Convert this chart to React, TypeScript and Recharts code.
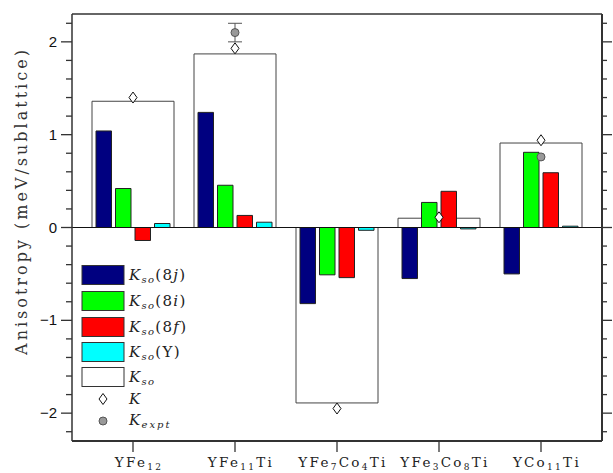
import {
  ComposedChart,
  Bar,
  Line,
  XAxis,
  YAxis,
  ReferenceLine,
  ErrorBar,
} from 'recharts';

const categories = ['YFe12', 'YFe11Ti', 'YFe7Co4Ti', 'YFe3Co8Ti', 'YCo11Ti'];
const kso8j = [1.04, 1.24, -0.82, -0.55, -0.5];
const kso8i = [0.42, 0.455, -0.51, 0.27, 0.81];
const kso8f = [-0.14, 0.13, -0.54, 0.39, 0.59];
const ksoY = [0.043, 0.057, -0.03, -0.015, 0.014];
const ksoTotal = [1.36, 1.87, -1.89, 0.1, 0.91];
const kTotal = [1.4, 1.93, -1.95, 0.11, 0.94];
const kExpt = [null, 2.1, null, null, 0.76];
const kExptErr = [null, 0.1, null, null, null];
const yTicks = [
  -2.2, -2, -1.8, -1.6, -1.4, -1.2, -1, -0.8, -0.6, -0.4, -0.2, 0, 0.2, 0.4,
  0.6, 0.8, 1, 1.2, 1.4, 1.6, 1.8, 2, 2.2,
];
const yMajor = [-2, -1, 0, 1, 2];

const data = categories.map((name, i) => ({
  name,
  j8: kso8j[i],
  i8: kso8i[i],
  f8: kso8f[i],
  y: ksoY[i],
  kso: ksoTotal[i],
  k: kTotal[i],
  kexpt: kExpt[i],
  kexptErr: kExptErr[i],
}));

const AXIS = '#333';
const SERIF = '"DejaVu Serif", serif';

// splits "YFe11Ti" into normal / subscript runs
function formula(label: string, sub: number) {
  const parts = label.split(/(\d+)/).filter((p) => p !== '');
  let shifted = false;
  return parts.map((p, i) => {
    const isNum = /^\d+$/.test(p);
    let dy = 0;
    if (isNum && !shifted) {
      dy = 3;
      shifted = true;
    } else if (!isNum && shifted) {
      dy = -3;
      shifted = false;
    }
    return (
      <tspan key={i} dy={dy} fontSize={isNum ? sub : undefined}>
        {p}
      </tspan>
    );
  });
}

const CatTick = (props: any) => {
  const { x, y, payload } = props;
  return (
    <text
      x={x + 6}
      y={y + 13}
      textAnchor="middle"
      fontFamily={SERIF}
      fontSize={13.5}
      letterSpacing={2.3}
      fill="#222"
    >
      {formula(payload.value, 9)}
    </text>
  );
};

const LeftTick = (props: any) => {
  const { x, y, payload } = props;
  const major = yMajor.includes(payload.value);
  return (
    <g>
      <line x1={x} x2={x - (major ? 11 : 6)} y1={y} y2={y} stroke={AXIS} strokeWidth={1.3} />
      {major && (
        <text
          x={x - 15}
          y={y + 5}
          textAnchor="end"
          fontFamily='"Liberation Sans", sans-serif'
          fontSize={15}
          fill="#111"
        >
          {payload.value < 0 ? '\u2212' + Math.abs(payload.value) : payload.value}
        </text>
      )}
    </g>
  );
};

const RightTick = (props: any) => {
  const { x, y, payload } = props;
  const major = yMajor.includes(payload.value);
  return <line x1={x} x2={x + (major ? 10 : 5)} y1={y} y2={y} stroke={AXIS} strokeWidth={1.3} />;
};

const Diamond = (props: any) => {
  const { cx, cy, value } = props;
  if (value == null || cy == null) return <g />;
  return (
    <path
      d={`M${cx},${cy - 5.5} L${cx + 4},${cy} L${cx},${cy + 5.5} L${cx - 4},${cy} Z`}
      fill="#fff"
      stroke="#111"
      strokeWidth={1}
    />
  );
};

const Dot = (props: any) => {
  const { cx, cy, value } = props;
  if (value == null || cy == null) return <g />;
  return <circle cx={cx} cy={cy} r={4} fill="#999" stroke="#555" strokeWidth={1} />;
};

const legendRows = [
  { fill: '#000080', label: '8', lab2: 'j' },
  { fill: '#00ff00', label: '8', lab2: 'i' },
  { fill: '#ff0000', label: '8', lab2: 'f' },
  { fill: '#00ffff', label: 'Y', lab2: '' },
  { fill: '#ffffff', label: '', lab2: '' },
];

function LegendBox() {
  const rowY = [275, 301, 327, 352, 377];
  return (
    <g fontFamily={SERIF} fontSize={15} fill="#222" letterSpacing={1.3}>
      {legendRows.map((r, i) => (
        <g key={i}>
          <rect x={82} y={rowY[i] - 9.5} width={42} height={19} fill={r.fill} stroke="#333" strokeWidth={1} />
          <text x={129} y={rowY[i] + 5}>
            <tspan fontStyle="italic">K</tspan>
            <tspan fontStyle="italic" fontSize={10} dy={3}>so</tspan>
            {r.label !== '' && (
              <>
                <tspan dy={-3}>({r.label}</tspan>
                {r.lab2 && <tspan fontStyle="italic">{r.lab2}</tspan>}
                <tspan>)</tspan>
              </>
            )}
          </text>
        </g>
      ))}
      <path d="M103,393.5 L107,399 L103,404.5 L99,399 Z" fill="#fff" stroke="#111" strokeWidth={1} />
      <text x={129} y={404} fontStyle="italic">K</text>
      <circle cx={103} cy={421} r={4} fill="#999" stroke="#555" strokeWidth={1} />
      <text x={129} y={425}>
        <tspan fontStyle="italic">K</tspan>
        <tspan fontStyle="italic" fontSize={10} dy={3} letterSpacing={2}>expt</tspan>
      </text>
    </g>
  );
}

export default function App() {
  return (
    <div style={{ position: 'absolute', left: 0, top: 0, width: 613, height: 473, background: '#fff' }}>
      <ComposedChart
        width={613}
        height={473}
        data={data}
        margin={{ top: 4, right: 1, bottom: 0, left: 12 }}
      >
        <XAxis
          xAxisId="top"
          dataKey="name"
          orientation="top"
          height={10}
          padding={{ left: 10, right: 10 }}
          tick={false}
          tickSize={10}
          tickLine={{ stroke: AXIS, strokeWidth: 1.3 }}
          axisLine={{ stroke: AXIS, strokeWidth: 1.5 }}
        />
        <XAxis
          xAxisId="main"
          dataKey="name"
          height={32}
          padding={{ left: 10, right: 10 }}
          tick={<CatTick />}
          tickSize={11}
          tickLine={{ stroke: AXIS, strokeWidth: 1.3 }}
          axisLine={{ stroke: AXIS, strokeWidth: 2 }}
          interval={0}
        />
        <YAxis
          yAxisId="left"
          width={60}
          domain={[-2.3, 2.3]}
          ticks={yTicks}
          interval={0}
          tickSize={0}
          tickMargin={0}
          tickLine={false}
          tick={<LeftTick />}
          axisLine={{ stroke: AXIS, strokeWidth: 1.5 }}
          allowDataOverflow
        />
        <YAxis
          yAxisId="right"
          orientation="right"
          width={10}
          domain={[-2.3, 2.3]}
          ticks={yTicks}
          interval={0}
          tickSize={0}
          tickMargin={0}
          tickLine={false}
          tick={<RightTick />}
          axisLine={{ stroke: AXIS, strokeWidth: 2 }}
          allowDataOverflow
        />
        <Bar
          xAxisId="top"
          yAxisId="right"
          dataKey="kso"
          barSize={82}
          fill="#fff"
          stroke="#444"
          strokeWidth={1}
          isAnimationActive={false}
        />
        <Bar xAxisId="main" yAxisId="left" dataKey="j8" barSize={15.5} fill="#000080" stroke="#222" strokeWidth={1} isAnimationActive={false} />
        <Bar xAxisId="main" yAxisId="left" dataKey="i8" barSize={15.5} fill="#00ff00" stroke="#222" strokeWidth={1} isAnimationActive={false} />
        <Bar xAxisId="main" yAxisId="left" dataKey="f8" barSize={15.5} fill="#ff0000" stroke="#222" strokeWidth={1} isAnimationActive={false} />
        <Bar xAxisId="main" yAxisId="left" dataKey="y" barSize={15.5} fill="#00ffff" stroke="#222" strokeWidth={1} isAnimationActive={false} />
        <ReferenceLine xAxisId="main" yAxisId="left" y={0} stroke="#111" strokeWidth={1} />
        <Line
          xAxisId="main"
          yAxisId="left"
          dataKey="kexpt"
          stroke="none"
          dot={<Dot />}
          activeDot={false}
          isAnimationActive={false}
          connectNulls={false}
        >
          <ErrorBar dataKey="kexptErr" width={7} stroke="#555" strokeWidth={1} direction="y" />
        </Line>
        <Line
          xAxisId="main"
          yAxisId="left"
          dataKey="k"
          stroke="none"
          dot={<Diamond />}
          activeDot={false}
          isAnimationActive={false}
        />
      </ComposedChart>
      <svg width={613} height={473} style={{ position: 'absolute', left: 0, top: 0, pointerEvents: 'none' }}>
        <text
          x={27}
          y={201}
          transform="rotate(-90 27 201)"
          textAnchor="middle"
          fontFamily={SERIF}
          fontSize={16}
          letterSpacing={3}
          fill="#333"
        >
          Anisotropy (meV/sublattice)
        </text>
        <LegendBox />
      </svg>
    </div>
  );
}
